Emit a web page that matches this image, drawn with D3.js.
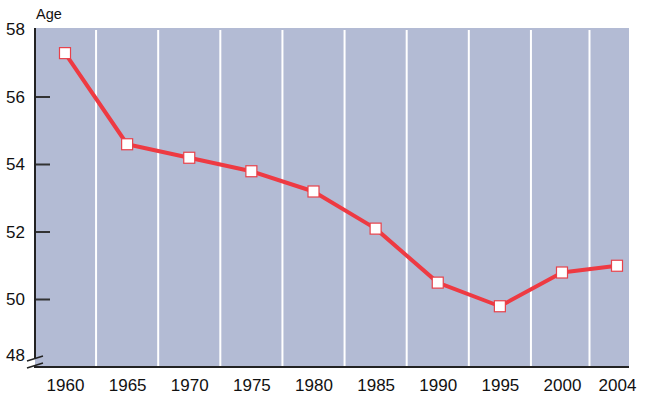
<!DOCTYPE html>
<html>
<head>
<meta charset="utf-8">
<script src="https://cdn.jsdelivr.net/npm/d3@7"></script>
<style>
  body { margin: 0; background: #fff; }
</style>
</head>
<body>
<svg id="chart" width="650" height="400"></svg>
<script>
// data
let years = [1960, 1965, 1970, 1975, 1980, 1985, 1990, 1995, 2000, 2004];
let ages = [57.3, 54.6, 54.2, 53.8, 53.2, 52.1, 50.5, 49.8, 50.8, 51.0];
let yTicks = [48, 50, 52, 54, 56, 58];

let svg = d3.select("svg#chart");
let plot = { left: 35, right: 629, top: 28, bottom: 367 };
let fontFam = "'Liberation Sans', Arial, Helvetica, sans-serif";

// last category (2004) sits closer than the 5-year steps
let xScale = d3.scaleLinear()
    .domain([1960, 2000, 2004])
    .range([65, 562, 617]);
let yScale = d3.scaleLinear().domain([48, 58]).range([367, 29.5]);

// background
svg.append("rect")
    .attr("x", plot.left)
    .attr("y", plot.top)
    .attr("width", plot.right - plot.left)
    .attr("height", plot.bottom - plot.top)
    .attr("fill", "#b3bbd4");

// white separators between the year columns
let seps = years.slice(1).map((y, i) => (xScale(y) + xScale(years[i])) / 2);
svg.selectAll("line.sep")
    .data(seps)
    .enter().append("line")
    .attr("class", "sep")
    .attr("x1", d => d).attr("x2", d => d)
    .attr("y1", plot.top + 2).attr("y2", plot.bottom - 1)
    .attr("stroke", "#ffffff")
    .attr("stroke-width", 2);

// y axis: labels outside
let yAxis = d3.axisLeft(yScale).tickValues(yTicks).tickSize(0).tickPadding(10);
let yg = svg.append("g")
    .attr("transform", "translate(" + plot.left + ",0)")
    .call(yAxis)
    .attr("font-size", 17)
    .attr("font-family", fontFam);
yg.select("path.domain").remove();
yg.selectAll("text").attr("fill", "#111");
yg.selectAll(".tick").filter(d => d === 48).select("text").attr("dy", "-0.4em");

// short ticks inside the plot
svg.selectAll("rect.ytick")
    .data(yTicks.filter(d => d > 48 && d < 58))
    .enter().append("rect")
    .attr("class", "ytick")
    .attr("x", plot.left)
    .attr("y", d => yScale(d) - 1)
    .attr("width", 15)
    .attr("height", 2)
    .attr("fill", "#333");

// x axis labels
let xAxis = d3.axisBottom(xScale).tickValues(years).tickFormat(d3.format("d")).tickSize(0).tickPadding(12);
let xg = svg.append("g")
    .attr("transform", "translate(0," + plot.bottom + ")")
    .call(xAxis)
    .attr("font-size", 17)
    .attr("font-family", fontFam);
xg.select("path.domain").remove();
xg.selectAll("text").attr("fill", "#111");

// axis lines
svg.append("line")
    .attr("x1", plot.left).attr("x2", plot.left)
    .attr("y1", plot.top).attr("y2", 358)
    .attr("stroke", "#222").attr("stroke-width", 2);
svg.append("line")
    .attr("x1", plot.left - 1).attr("x2", plot.right)
    .attr("y1", plot.bottom).attr("y2", plot.bottom)
    .attr("stroke", "#222").attr("stroke-width", 2);

// axis break marks
svg.append("line")
    .attr("x1", 27).attr("y1", 361).attr("x2", 43).attr("y2", 356)
    .attr("stroke", "#222").attr("stroke-width", 1.5);
svg.append("line")
    .attr("x1", 27).attr("y1", 368).attr("x2", 43).attr("y2", 363)
    .attr("stroke", "#222").attr("stroke-width", 1.5);

// axis title
svg.append("text")
    .attr("x", 36).attr("y", 19)
    .attr("font-family", fontFam)
    .attr("font-size", 14.5)
    .attr("fill", "#111")
    .text("Age");

// line
let line = d3.line().x((d, i) => xScale(years[i])).y(d => yScale(d));
svg.append("path")
    .datum(ages)
    .attr("d", line)
    .attr("fill", "none")
    .attr("stroke", "#ee3a42")
    .attr("stroke-width", 4)
    .attr("stroke-linejoin", "round");

// markers
svg.selectAll("rect.marker")
    .data(ages)
    .enter().append("rect")
    .attr("class", "marker")
    .attr("x", (d, i) => xScale(years[i]) - 5.5)
    .attr("y", d => yScale(d) - 5.5)
    .attr("width", 11).attr("height", 11)
    .attr("fill", "#ffffff")
    .attr("stroke", "#e8414a")
    .attr("stroke-width", 1.2);
</script>
</body>
</html>
